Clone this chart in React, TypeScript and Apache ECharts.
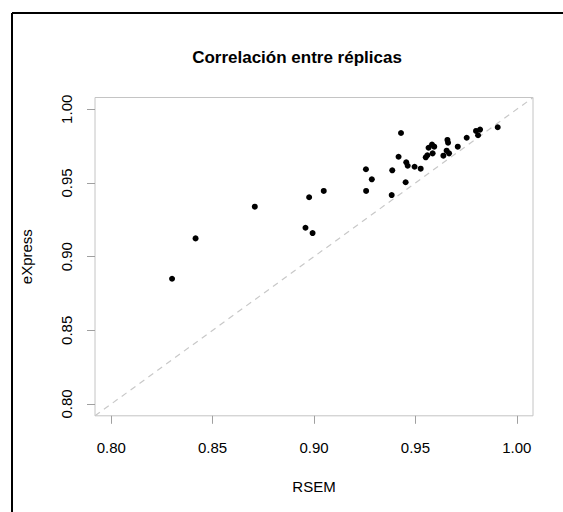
import React, { useEffect, useRef } from "react";
import * as echarts from "echarts";

const titleText = "Correlación entre réplicas";
const xAxisTitle = "RSEM";
const yAxisTitle = "eXpress";
const tickValues = [0.8, 0.85, 0.9, 0.95, 1.0];
const axisMin = 0.792;
const axisMax = 1.008;

const rsem = [
  0.83, 0.8416, 0.8708, 0.8976, 0.9048, 0.8958, 0.8993, 0.9429, 0.9256, 0.9285,
  0.9257, 0.9386, 0.9417, 0.9455, 0.9462, 0.9496, 0.9526, 0.9452, 0.9383, 0.9551,
  0.9559, 0.9565, 0.9582, 0.9593, 0.9585, 0.9638, 0.9658, 0.9661, 0.9654, 0.9666,
  0.9709, 0.9753, 0.9799, 0.9819, 0.9809, 0.9906,
];
const express = [
  0.885, 0.9124, 0.9339, 0.9403, 0.9446, 0.9196, 0.916, 0.9839, 0.9593, 0.9525,
  0.9446, 0.9586, 0.9678, 0.964, 0.9617, 0.961, 0.9597, 0.9505, 0.9418, 0.9674,
  0.9688, 0.9739, 0.976, 0.9746, 0.9701, 0.9685, 0.9792, 0.9773, 0.9719, 0.9701,
  0.9746, 0.9807, 0.9853, 0.9862, 0.9824, 0.9878,
];

const FONT = "'Liberation Sans', Arial, Helvetica, sans-serif";

export default function App() {
  const ref = useRef<HTMLDivElement>(null);
  useEffect(() => {
    if (!ref.current) return;
    const chart = echarts.init(ref.current, undefined, { renderer: "svg" });
    const points = rsem.map((x, i) => [x, express[i]]);
    const axisCommon = {
      type: "value" as const,
      min: axisMin,
      max: axisMax,
      splitLine: { show: false },
      axisLine: { show: false },
      axisTick: {
        show: true,
        length: 8,
        customValues: tickValues,
        lineStyle: { color: "#a0a0a0", width: 1 },
      },
      nameLocation: "middle" as const,
      nameTextStyle: { fontFamily: FONT, fontSize: 15, color: "#000" },
    };
    chart.setOption({
      animation: false,
      backgroundColor: "#fff",
      title: {
        text: titleText,
        left: 292,
        top: 44,
        textAlign: "center",
        textStyle: { fontFamily: FONT, fontSize: 17, fontWeight: "bold", color: "#000" },
      },
      grid: {
        left: 95,
        top: 97.5,
        width: 438,
        height: 318.3,
        show: true,
        borderColor: "#c4c4c4",
        borderWidth: 1,
        backgroundColor: "transparent",
      },
      xAxis: {
        ...axisCommon,
        name: xAxisTitle,
        nameGap: 63,
        axisLabel: {
          customValues: tickValues,
          margin: 24,
          fontFamily: FONT,
          fontSize: 15,
          color: "#000",
          formatter: (v: number) => v.toFixed(2),
        },
      },
      yAxis: {
        ...axisCommon,
        name: yAxisTitle,
        nameGap: 61,
        axisLabel: {
          customValues: tickValues,
          margin: 21,
          rotate: 90,
          fontFamily: FONT,
          fontSize: 15,
          color: "#000",
          formatter: (v: number) => v.toFixed(2),
        },
      },
      graphic: [
        { type: "line", shape: { x1: 12, y1: 13, x2: 563, y2: 13 }, style: { stroke: "#000", lineWidth: 2 } },
        { type: "line", shape: { x1: 12, y1: 13, x2: 12, y2: 512 }, style: { stroke: "#000", lineWidth: 2 } },
      ],
      series: [
        {
          type: "line",
          data: [[axisMin, axisMin], [axisMax, axisMax]],
          showSymbol: false,
          symbol: "none",
          lineStyle: { color: "#c8c8c8", width: 1.2, type: [6, 5] },
          silent: true,
          z: 1,
        },
        {
          type: "scatter",
          data: points,
          symbol: "circle",
          symbolSize: 6,
          itemStyle: { color: "#000", opacity: 1 },
          z: 2,
        },
      ],
    });
    return () => chart.dispose();
  }, []);
  return (
    <div
      ref={ref}
      style={{ position: "absolute", left: 0, top: 0, width: 563, height: 512 }}
    />
  );
}
